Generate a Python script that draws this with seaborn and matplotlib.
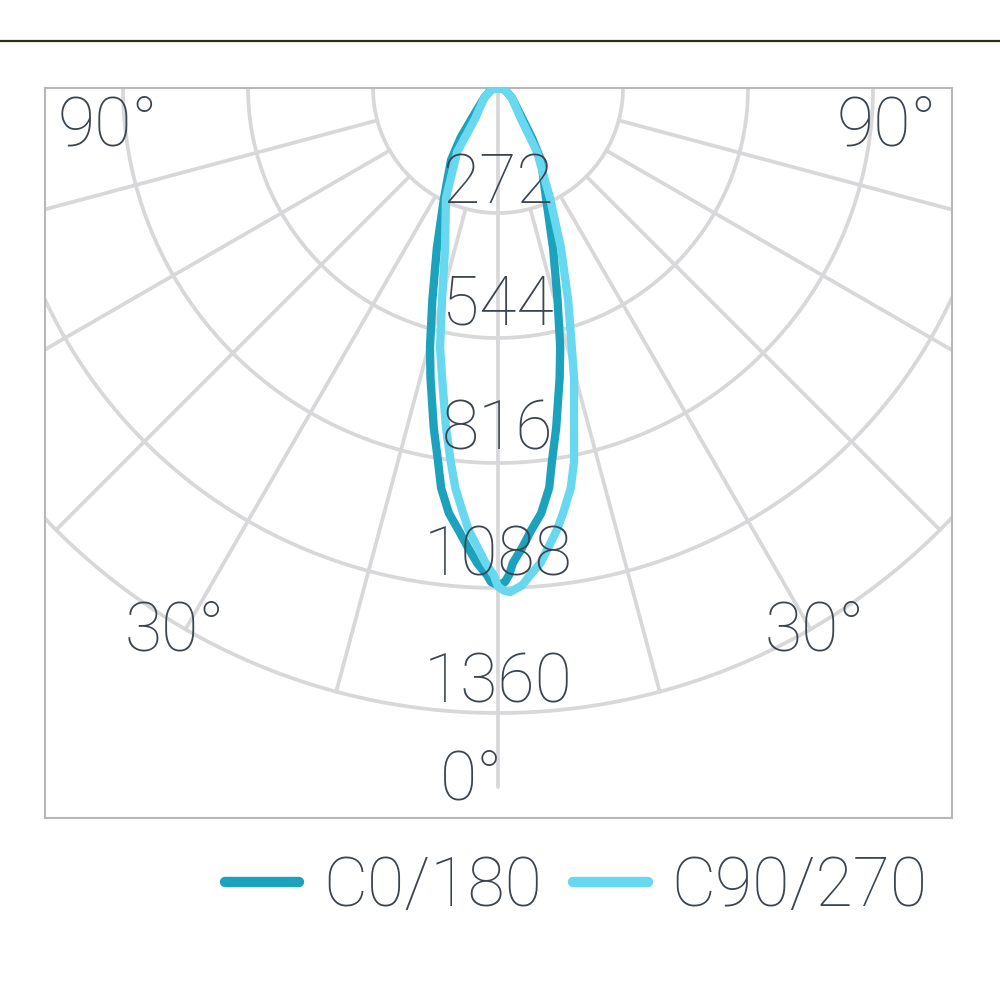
import numpy as np
import pandas as pd
import matplotlib
matplotlib.use('Agg')
import matplotlib.pyplot as plt
import seaborn as sns
from matplotlib.lines import Line2D

# luminous intensity (cd) against angle from nadir
# each half of each curve has its own angle list
c0_left_deg = [0, 0.8, 1.3, 2.5, 3.7, 5.1, 6.6, 8.1, 9.1, 10.7, 13.1, 14.7, 17.2, 20.9, 26.1, 33.1, 36.9, 40.9, 54.5, 69.4, 82.9, 90]
c0_left_cd = [1082, 1075, 1060, 1035, 1003, 966, 931, 879, 824, 753, 648, 583, 483, 373, 267, 187, 136, 86, 37, 19, 9, 0]
c0_right_deg = [0, 0.8, 1.3, 1.8, 3.0, 4.3, 5.8, 7.3, 8.2, 9.7, 12.0, 13.5, 15.7, 19.0, 23.6, 30.8, 34.2, 38.7, 54.5, 69.4, 82.9, 90]
c0_right_cd = [1082, 1075, 1060, 1034, 1002, 965, 930, 877, 822, 751, 645, 580, 479, 368, 261, 183, 132, 84, 37, 19, 9, 0]
c90_left_deg = [0, 0.5, 1.5, 2.5, 3.8, 4.7, 6.1, 7.2, 8.7, 10.9, 12.6, 14.8, 18.3, 25.3, 32.6, 36.9, 54.5, 69.4, 82.9, 90]
c90_left_cd = [1085, 1060, 1034, 1002, 964, 928, 875, 820, 748, 643, 578, 477, 367, 265, 165, 82, 37, 19, 9, 0]
c90_right_deg = [0, 0.7, 1.4, 2.8, 3.8, 5.1, 6.2, 7.6, 8.7, 10.3, 11.5, 12.6, 14.7, 15.9, 18.3, 21.5, 25.3, 31.4, 36.9, 54.5, 69.4, 82.9, 90]
c90_right_cd = [1085, 1094, 1097, 1083, 1062, 1038, 1007, 970, 936, 885, 830, 758, 652, 586, 486, 374, 265, 163, 82, 37, 19, 9, 0]

rings = [272, 544, 816, 1088, 1360]
spoke_angles = [15, 30, 45, 60, 75]
angle_labels = ['90°', '30°', '0°']

series = ['C0/180', 'C90/270']
colors = ['#1ca2bd', '#68d8f0']
txt = '#3b4550'
grid_c = '#d8d8da'

sns.set_style('white')
plt.rcParams['font.family'] = ['Roboto', 'DejaVu Sans']
fw = 'light'


def half(deg, cd, sign, name):
    a = np.radians(deg)
    v = np.array(cd, dtype=float)
    return pd.DataFrame({'x': sign * v * np.sin(a), 'y': v * np.cos(a), 'curve': name})


frames = [
    half(c0_left_deg, c0_left_cd, -1, series[0]).iloc[::-1],
    half(c0_right_deg, c0_right_cd, 1, series[0]),
    half(c90_left_deg, c90_left_cd, -1, series[1]).iloc[::-1],
    half(c90_right_deg, c90_right_cd, 1, series[1]),
]
df = pd.concat(frames, ignore_index=True)

k = 272 / 125  # cd per pixel
fig = plt.figure(figsize=(10, 10), dpi=100)
ax = fig.add_axes([0.045, 0.182, 0.907, 0.730])

# grid: half rings, spokes every 15 deg, nadir line
t = np.radians(np.linspace(-90, 90, 400))
for r in rings:
    ax.plot(r * np.sin(t), r * np.cos(t), color=grid_c, lw=2.7, zorder=1)
for a in spoke_angles:
    for s in (-1, 1):
        ar = np.radians(a)
        ax.plot([s * 272 * np.sin(ar), s * 1360 * np.sin(ar)],
                [272 * np.cos(ar), 1360 * np.cos(ar)], color=grid_c, lw=2.7, zorder=1)
ax.plot([0, 0], [0, 1520], color=grid_c, lw=2.7, zorder=1)

sns.lineplot(data=df, x='x', y='y', hue='curve', hue_order=series, palette=colors,
             sort=False, estimator=None, linewidth=6, ax=ax, zorder=3)
for ln in ax.get_lines()[-2:]:
    ln.set_solid_joinstyle('round')

ax.set_xlim(-453 * k, 454 * k)
ax.set_ylim(730 * k, 0)
ax.set_xticks([])
ax.set_yticks([])
ax.set_xlabel('')
ax.set_ylabel('')
for sp in ax.spines.values():
    sp.set_color('#b8b8b8')
    sp.set_linewidth(1.5)

fs = 49
for r, yc in zip(rings, [209, 474, 746, 1020, 1297]):
    ax.text(0, yc, str(r), ha='center', va='center', fontsize=fs, color=txt,
            fontweight=fw, zorder=5)
for xc, yc, lab in [(-849, 85, angle_labels[0]), (846, 85, angle_labels[0]),
                    (-703, 1184, angle_labels[1]), (690, 1184, angle_labels[1]),
                    (-57, 1508, angle_labels[2])]:
    ax.text(xc, yc, lab, ha='center', va='center', fontsize=fs, color=txt, fontweight=fw, zorder=5)

sns.move_legend(ax, 'center', bbox_to_anchor=(0.576, 0.113), bbox_transform=fig.transFigure,
                ncol=2, frameon=False, title=None, handlelength=1.1,
                handletextpad=0.35, columnspacing=0.45, labelcolor=txt,
                prop={'weight': fw, 'size': fs})
leg = ax.get_legend()
for ln in leg.get_lines():
    ln.set_linewidth(7.5)

fig.add_artist(Line2D([0, 1], [0.959, 0.959], color='#2e2e14', lw=1.6, transform=fig.transFigure))

fig.savefig('out.png', dpi=100, facecolor='white')
